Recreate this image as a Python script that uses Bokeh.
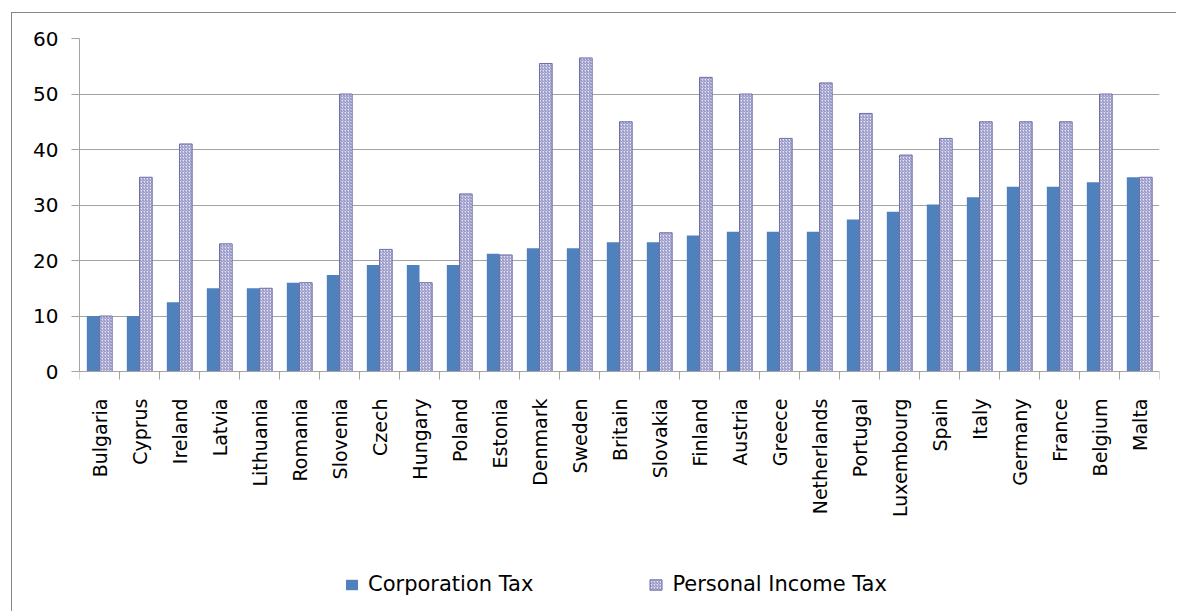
import math
from bokeh.plotting import figure
from bokeh.models import (ColumnDataSource, Range1d, FixedTicker, Legend,
                          LegendItem, LinearAxis)
from bokeh.embed import file_html
from bokeh.resources import INLINE

countries = ["Bulgaria", "Cyprus", "Ireland", "Latvia", "Lithuania", "Romania",
             "Slovenia", "Czech", "Hungary", "Poland", "Estonia", "Denmark",
             "Sweden", "Britain", "Slovakia", "Finland", "Austria", "Greece",
             "Netherlands", "Portugal", "Luxembourg", "Spain", "Italy",
             "Germany", "France", "Belgium", "Malta"]
corporation_tax = [10, 10, 12.5, 15, 15, 16, 17.4, 19.2, 19.2, 19.2, 21.2, 22.2,
                   22.2, 23.3, 23.3, 24.5, 25.2, 25.2, 25.2, 27.4, 28.8, 30.1,
                   31.4, 33.3, 33.3, 34.1, 35]
personal_income_tax = [10, 35, 41, 23, 15, 16, 50, 22, 16, 32, 21, 55.5,
                       56.5, 45, 25, 53, 50, 42, 52, 46.5, 39, 42,
                       45, 45, 45, 50, 35]
y_ticks = [0, 10, 20, 30, 40, 50, 60]

n = len(countries)
centers = [i + 0.5 for i in range(n)]
bar_w = 0.317
off = bar_w / 2

src = ColumnDataSource(dict(
    x_corp=[c - off for c in centers],
    x_pers=[c + off for c in centers],
    corp=corporation_tax,
    pers=personal_income_tax,
))

FONT = "DejaVu Sans"
GRID = "#a3a3a3"

# layout (pixels): figure content starts at page (12, 13)
W, H = 1165, 599
B_LEFT, B_RIGHT, B_TOP, B_BOTTOM = 67, 18, 25, 2
PLOT_H = 333                     # pixel height of the 0..60 value span
frame_h = H - B_TOP - B_BOTTOM
y_max = y_ticks[-1]
y_min = -y_max * (frame_h - PLOT_H) / PLOT_H

p = figure(width=W, height=H, output_backend="svg", toolbar_location=None,
           x_range=Range1d(0, n), y_range=Range1d(y_min, y_max),
           min_border_left=B_LEFT, min_border_right=B_RIGHT,
           min_border_top=B_TOP, min_border_bottom=B_BOTTOM,
           x_axis_location=None,
           styles={"margin-left": "11px", "margin-top": "12px",
                   "border-left": "1px solid #868686",
                   "border-top": "1px solid #868686"})
p.outline_line_color = None
p.background_fill_color = "white"
p.border_fill_color = "white"

r_corp = p.vbar(x="x_corp", top="corp", bottom=0, width=bar_w, source=src,
                fill_color="#4f81bd", line_color=None)
r_pers = p.vbar(x="x_pers", top="pers", bottom=0, width=bar_w, source=src,
                fill_color="#e4e4f2", hatch_pattern="/", hatch_scale=3,
                hatch_weight=1, hatch_color="#8585bd",
                line_color="#6f6fa8", line_width=1)

# x axis at value 0: labels at category centres, ticks between categories
xa = LinearAxis(fixed_location=0)
xa.ticker = FixedTicker(ticks=centers, minor_ticks=list(range(n + 1)))
xa.major_label_overrides = {c: name for c, name in zip(centers, countries)}
xa.major_label_orientation = math.pi / 2
xa.major_label_standoff = 19
xa.major_label_text_font = FONT
xa.major_label_text_font_size = "19px"
xa.major_label_text_color = "black"
xa.major_tick_out = 0
xa.major_tick_in = 0
xa.major_tick_line_color = None
xa.minor_tick_out = 8
xa.minor_tick_in = 0
xa.minor_tick_line_color = GRID
xa.axis_line_color = GRID
p.add_layout(xa, "below")

ya = p.yaxis[0]
ya.bounds = (0, y_max)
ya.ticker = FixedTicker(ticks=y_ticks)
ya.major_label_standoff = 13
ya.major_label_text_font = FONT
ya.major_label_text_font_size = "20px"
ya.major_label_text_color = "black"
ya.major_tick_out = 8
ya.major_tick_in = 0
ya.major_tick_line_color = GRID
ya.minor_tick_line_color = None
ya.axis_line_color = GRID

p.xgrid.visible = False
p.ygrid.ticker = FixedTicker(ticks=y_ticks)
p.ygrid.bounds = (0, y_max)
p.ygrid.grid_line_color = GRID

legend = Legend(items=[LegendItem(label="Corporation Tax", renderers=[r_corp]),
                       LegendItem(label="Personal Income Tax", renderers=[r_pers])],
                location=(265, 14), orientation="horizontal",
                padding=0, margin=0, spacing=115,
                glyph_width=15, glyph_height=13, label_standoff=9,
                label_text_font=FONT, label_text_font_size="21px",
                label_text_color="black", label_height=21,
                border_line_color=None, background_fill_alpha=0)
p.add_layout(legend)

open("out.html", "w").write(file_html(p, INLINE))
